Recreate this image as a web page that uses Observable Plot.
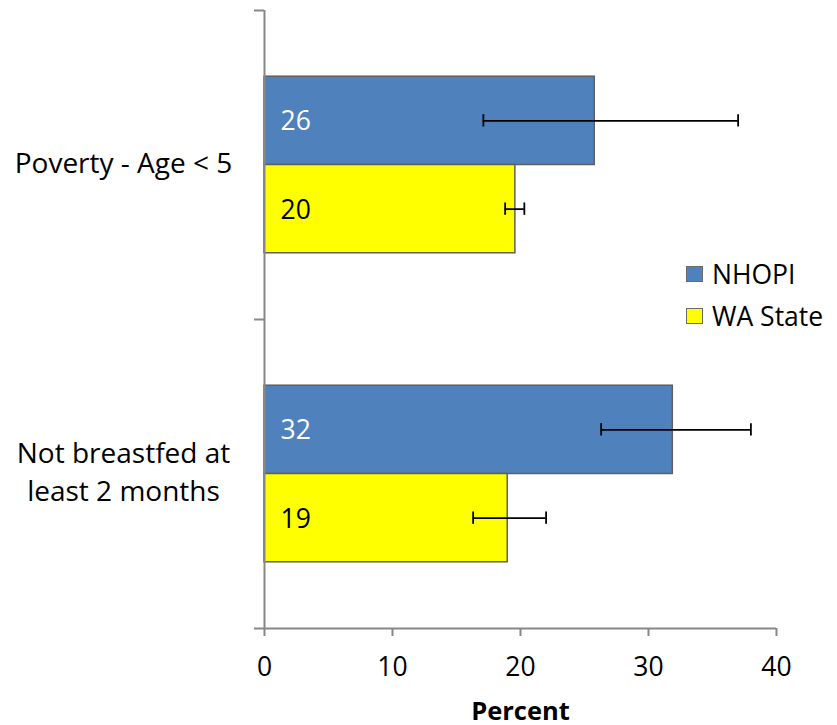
<!DOCTYPE html>
<html>
<head>
<meta charset="utf-8">
<script src="https://cdn.jsdelivr.net/npm/d3@7"></script>
<script src="https://cdn.jsdelivr.net/npm/@observablehq/plot@0.6"></script>
<style>
  html, body { margin: 0; padding: 0; background: #fff; }
  #wrap { position: relative; width: 837px; height: 725px; font-family: "Open Sans", sans-serif; }
  .legend { position: absolute; left: 686px; font-size: 26.5px; color: #000; display: flex; align-items: center; line-height: 1; }
  .legend .sw { width: 15px; height: 14px; border: 1.5px solid #6b6b6b; margin-right: 9px; }
</style>
</head>
<body>
<div id="wrap"></div>
<script>
// ---- data ----
const categories = ["Poverty - Age < 5", "Not breastfed at\nleast 2 months"];
const seriesNames = ["NHOPI", "WA State"];
const nhopiValues = [25.8, 31.9];
const nhopiLow = [17.1, 26.3];
const nhopiHigh = [37.0, 38.0];
const waValues = [19.6, 19.0];
const waLow = [18.8, 16.3];
const waHigh = [20.3, 22.0];
const xTicks = [0, 10, 20, 30, 40];
const colors = {"NHOPI": "#4f81bd", "WA State": "#ffff00"};
const labelColors = {"NHOPI": "#ffffff", "WA State": "#000000"};

// ---- table ----
// category i occupies y in [i, i+1]; Excel-like gap width 75% on each side
const gap = 0.75, step = 1 / (2 + 2 * gap);
const rows = [];
categories.forEach((c, i) => {
  [[nhopiValues, nhopiLow, nhopiHigh], [waValues, waLow, waHigh]].forEach(([v, lo, hi], s) => {
    const y1 = i + (gap + s) * step, y2 = y1 + step;
    rows.push({cat: c, series: seriesNames[s], value: v[i], lo: lo[i], hi: hi[i], y1, y2, ym: (y1 + y2) / 2});
  });
});
const capHalf = 0.02;

const gray = "#878787";
const fs = 26.5;
const W = 837, H = 725;
const chart = Plot.plot({
  width: W, height: H,
  marginLeft: 264, marginRight: 61, marginTop: 10, marginBottom: 97,
  style: {fontFamily: "Open Sans, sans-serif", fontSize: fs + "px", color: "#000", background: "#fff"},
  x: {domain: [0, 40]},
  y: {domain: [0, 2], reverse: true},
  marks: [
    Plot.rect(rows, {x1: 0, x2: "value", y1: "y1", y2: "y2", fill: d => colors[d.series], stroke: "#5f5f5f", strokeWidth: 1.5}),
    Plot.ruleY(rows, {x1: "lo", x2: "hi", y: "ym", stroke: "#000", strokeWidth: 1.8}),
    Plot.ruleX(rows, {x: "lo", y1: d => d.ym - capHalf, y2: d => d.ym + capHalf, stroke: "#000", strokeWidth: 1.8}),
    Plot.ruleX(rows, {x: "hi", y1: d => d.ym - capHalf, y2: d => d.ym + capHalf, stroke: "#000", strokeWidth: 1.8}),
    Plot.text(rows, {x: 0, y: "ym", text: d => String(Math.round(d.value)), dx: 16, dy: 1, textAnchor: "start", fill: d => labelColors[d.series], fontSize: fs}),
    Plot.ruleX([0], {y1: 0, y2: 2, stroke: gray, strokeWidth: 2}),
    Plot.ruleY([2], {x1: 0, x2: 40, stroke: gray, strokeWidth: 2}),
    Plot.axisY({ticks: [0, 1, 2], tickSize: 10, tickFormat: () => "", stroke: gray, strokeWidth: 2, label: null}),
    Plot.axisX({ticks: xTicks, tickSize: 8, tickPadding: 21, stroke: gray, strokeWidth: 2, fontSize: fs, fill: "#000", label: null}),
    Plot.text(categories, {y: (d, i) => i + 0.5, frameAnchor: "left", textAnchor: "middle", dx: -141, dy: -4, lineHeight: 1.36, fontSize: 28, fill: "#000"}),
    Plot.text(["Percent"], {frameAnchor: "bottom", lineAnchor: "bottom", dy: 91, fontWeight: "bold", fontSize: 25.5, fill: "#000"})
  ]
});
const wrap = document.getElementById("wrap");
wrap.appendChild(chart);
seriesNames.forEach((s, i) => {
  const el = document.createElement("div");
  el.className = "legend";
  el.style.top = (261 + i * 42) + "px";
  el.innerHTML = `<div class="sw" style="background:${colors[s]}"></div><span>${s}</span>`;
  wrap.appendChild(el);
});
</script>
</body>
</html>
